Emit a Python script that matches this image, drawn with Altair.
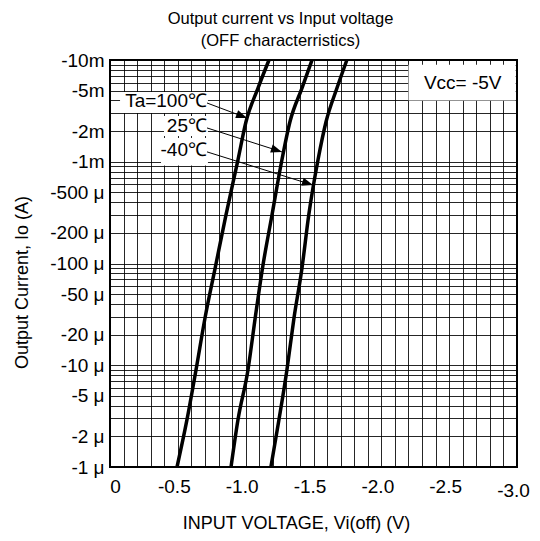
import math
import altair as alt
import pandas as pd

FONT = "Liberation Sans"

# ---- data (magnitudes: V in volts, I in amperes) ----
series_names = ["Ta=100℃", "25℃", "-40℃"]
i_points = [1e-6, 2.9e-6, 9e-6, 2.9e-5, 9e-5, 3.0e-4, 1.04e-3, 2.46e-3, 5.3e-3, 1e-2]
v_100 = [0.494, 0.567, 0.634, 0.700, 0.775, 0.855, 0.943, 1.002, 1.091, 1.172]
v_25 = [0.892, 0.943, 1.017, 1.070, 1.124, 1.194, 1.267, 1.326, 1.415, 1.489]
v_m40 = [1.186, 1.245, 1.304, 1.356, 1.415, 1.465, 1.533, 1.592, 1.673, 1.746]

x_grid_values = [round(k * 0.1, 1) for k in range(0, 31)]
y_grid_values = [m * 10.0 ** e for e in range(-6, -2) for m in range(1, 10)] + [1e-2]
y_label_values = [1e-6, 2e-6, 5e-6, 1e-5, 2e-5, 5e-5, 1e-4, 2e-4, 5e-4, 1e-3, 2e-3, 5e-3, 1e-2]
y_label_texts = ["-1 μ", "-2 μ", "-5 μ", "-10 μ", "-20 μ", "-50 μ", "-100 μ", "-200 μ",
                 "-500 μ", "-1m", "-2m", "-5m", "-10m"]

# annotation text labels (right aligned at v), boxes and arrows
label_texts = ["Ta=100℃", "25℃", "-40℃"]
label_v = [0.715, 0.715, 0.715]
label_i = [3.95e-3, 2.25e-3, 1.30e-3]
box_v1 = [0.074, 0.398, 0.376]
box_v2 = [0.722, 0.722, 0.722]
box_i1 = [3.01e-3, 1.79e-3, 9.2e-4]
box_i2 = [4.85e-3, 2.82e-3, 1.71e-3]
arrow_v1 = [0.715, 0.715, 0.715]
arrow_i1 = [3.78e-3, 2.15e-3, 1.25e-3]
arrow_v2 = [1.010, 1.267, 1.496]
arrow_i2 = [2.69e-3, 1.25e-3, 5.9e-4]

vcc_text = "Vcc= -5V"
vcc_box = [2.2, 2.99, 4.0e-3, 9.0e-3]
vcc_pos = [2.6, 6.0e-3]

W, H = 407, 407
X_DOM = [0, 3.0]
Y_DOM = [1e-6, 1e-2]

# ---- tables ----
rows = []
for name, vs in zip(series_names, [v_100, v_25, v_m40]):
    for v, i in zip(vs, i_points):
        rows.append({"series": name, "V": v, "I": i})
curves = pd.DataFrame(rows)

labels_df = pd.DataFrame({"t": label_texts, "V": label_v, "I": label_i})
boxes_df = pd.DataFrame({"V": box_v1 + [vcc_box[0]], "V2": box_v2 + [vcc_box[1]],
                         "I": box_i1 + [vcc_box[2]], "I2": box_i2 + [vcc_box[3]]})


def px(v, i):
    return v / X_DOM[1] * W, H * (1 - (math.log10(i) + 6) / 4)


angles = []
for a, b, c, d in zip(arrow_v1, arrow_i1, arrow_v2, arrow_i2):
    x1, y1 = px(a, b)
    x2, y2 = px(c, d)
    ang = math.degrees(math.atan2(y2 - y1, x2 - x1)) % 360
    angles.append(ang)
arrows_df = pd.DataFrame({"V": arrow_v1, "I": arrow_i1, "V2": arrow_v2, "I2": arrow_i2,
                          "ang": angles})
vcc_df = pd.DataFrame({"t": [vcc_text], "V": [vcc_pos[0]], "I": [vcc_pos[1]]})

# ---- scales / axes ----
xscale = alt.Scale(domain=X_DOM, nice=False, zero=False)
yscale = alt.Scale(type="log", domain=Y_DOM, nice=False)

x_label_expr = ("abs(datum.value*2-round(datum.value*2))<0.01 ? "
                "(datum.value==0 ? '0' : '-'+format(datum.value,'.1f')) : ''")
y_label_expr = ""
for v, t in zip(y_label_values, y_label_texts):
    y_label_expr += f"abs(datum.value/{v!r}-1)<0.01 ? '{t}' : "
y_label_expr += "''"

xaxis = alt.Axis(values=x_grid_values, tickCount=100, labelExpr=x_label_expr, grid=True,
                 ticks=False, domain=False, labelFlush=False, labelOverlap=False,
                 labelPadding={"condition": {"test": "datum.value > 2.95", "value": 14},
                               "value": 10},
                 labelOffset={"condition": {"test": "datum.value < 0.05", "value": 5},
                              "value": -4},
                 labelFontSize=19, titleFontSize=18, titlePadding=14, titleX=186,
                 labelFont=FONT, titleFont=FONT, titleFontWeight="normal",
                 labelColor="black", titleColor="black")
yaxis = alt.Axis(values=y_grid_values, tickCount=100, labelExpr=y_label_expr, grid=True,
                 ticks=False, domain=False, labelFlush=False, labelOverlap=False,
                 labelPadding=6, labelFontSize=19, titleFontSize=18, titlePadding=18,
                 titleY=222,
                 labelFont=FONT, titleFont=FONT, titleFontWeight="normal",
                 labelColor="black", titleColor="black")

X = alt.X("V:Q", scale=xscale, axis=xaxis, title="INPUT VOLTAGE, Vi(off)  (V)")
Y = alt.Y("I:Q", scale=yscale, axis=yaxis, title="Output Current, Io (A)")

lines = alt.Chart(curves).mark_line(color="black", strokeWidth=3.5, interpolate="monotone").encode(
    x=X, y=Y, detail="series:N", order="V:Q")

boxes = alt.Chart(boxes_df).mark_rect(color="white", opacity=1).encode(
    x=alt.X("V:Q", scale=xscale), x2="V2:Q", y=alt.Y("I:Q", scale=yscale), y2="I2:Q")

texts = alt.Chart(labels_df).mark_text(align="right", baseline="middle", fontSize=19,
                                       font=FONT, color="black").encode(
    x=alt.X("V:Q", scale=xscale), y=alt.Y("I:Q", scale=yscale), text="t:N")

arrows = alt.Chart(arrows_df).mark_rule(color="black", strokeWidth=1).encode(
    x=alt.X("V:Q", scale=xscale), y=alt.Y("I:Q", scale=yscale), x2="V2:Q", y2="I2:Q")

heads = alt.Chart(arrows_df).mark_point(shape="M0,0L-2,-0.75L-2,0.75Z", filled=True,
                                        color="black", opacity=1, size=121).encode(
    x=alt.X("V2:Q", scale=xscale), y=alt.Y("I2:Q", scale=yscale),
    angle=alt.Angle("ang:Q", scale=None))

vcc = alt.Chart(vcc_df).mark_text(align="center", baseline="middle", fontSize=19,
                                  font=FONT, color="black").encode(
    x=alt.X("V:Q", scale=xscale), y=alt.Y("I:Q", scale=yscale), text="t:N")

chart = alt.layer(boxes, lines, texts, arrows, heads, vcc).properties(
    width=W, height=H,
    title=alt.TitleParams(text=["Output current  vs Input voltage", "(OFF characterristics)"],
                          fontSize=16.5, fontWeight="normal", font=FONT, color="black",
                          offset=2, lineHeight=22, anchor="middle", dx=-33),
    autosize=alt.AutoSizeParams(type="none"),
    padding={"left": 102, "top": 52, "right": 15, "bottom": 66},
).configure_view(stroke="black", strokeWidth=2).configure_axis(
    gridColor="black", gridWidth=1, gridOpacity=0.85)

chart.save("out.html", embed_options={"renderer": "svg", "actions": False})
